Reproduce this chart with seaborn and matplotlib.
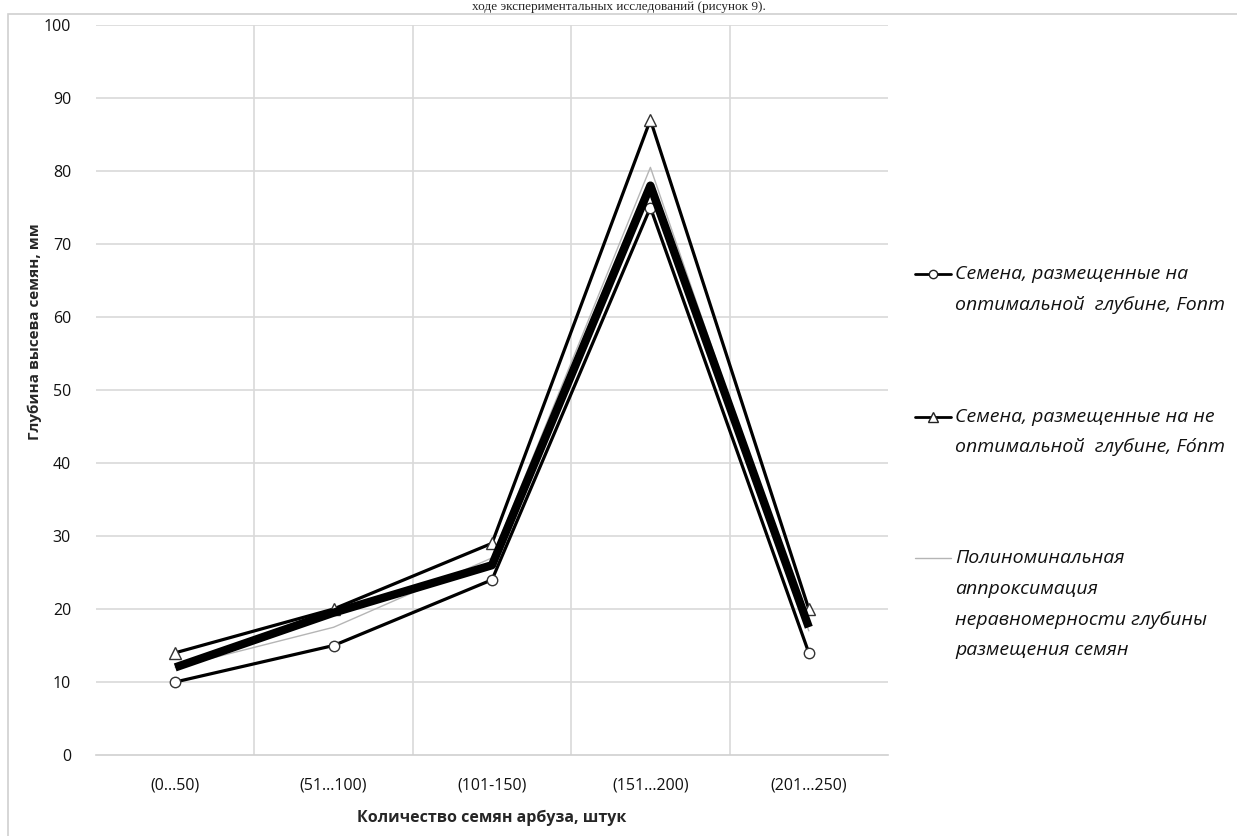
import matplotlib
matplotlib.use("Agg")
import matplotlib.pyplot as plt
import seaborn as sns
import pandas as pd
from matplotlib.lines import Line2D
from matplotlib.patches import Rectangle

categories = ["(0...50)", "(51...100)", "(101-150)", "(151...200)", "(201...250)"]
opt_values = [10, 15, 24, 75, 14]
nonopt_values = [14, 20, 29, 87, 20]
avg_values = [12, 19.5, 26, 78, 17.5]
poly_values = [12, 17.5, 27, 80.5, 17]

label_opt = ["Семена, размещенные на", "оптимальной  глубине, Fопт"]
label_nonopt = ["Семена, размещенные на не", "оптимальной  глубине, Fо́пт"]
label_poly = ["Полиноминальная", "аппроксимация", "неравномерности глубины", "размещения семян"]

sns.set_theme(style="white")
plt.rcParams['font.family'] = ['Open Sans', 'DejaVu Sans']

W, H = 1237, 836
x = list(range(len(categories)))
df = pd.DataFrame({"x": x, "opt": opt_values, "nonopt": nonopt_values,
                   "avg": avg_values, "poly": poly_values})

fig = plt.figure(figsize=(W / 100, H / 100), dpi=100)
ax = fig.add_axes([96 / W, 1 - 755 / H, (888 - 96) / W, (755 - 25) / H])


def fx(px):
    return px / W


def fy(py):
    return 1 - py / H


# outer chart border
fig.patches.append(Rectangle((fx(8), -0.01), 1.2, fy(14) + 0.01, transform=fig.transFigure,
                             fill=False, edgecolor="#d0d0d0", linewidth=1.2))

sns.lineplot(data=df, x="x", y="poly", ax=ax, color="#b5b5b5", linewidth=1.0, zorder=2)
sns.lineplot(data=df, x="x", y="opt", ax=ax, color="black", linewidth=2.3, marker="o",
             markersize=7.5, markerfacecolor="white", markeredgecolor="#333333",
             markeredgewidth=1.0, zorder=3)
sns.lineplot(data=df, x="x", y="nonopt", ax=ax, color="black", linewidth=2.3, marker="^",
             markersize=8.5, markerfacecolor="white", markeredgecolor="#333333",
             markeredgewidth=1.0, zorder=3)
sns.lineplot(data=df, x="x", y="avg", ax=ax, color="black", linewidth=6.0, zorder=4,
             solid_joinstyle="round", solid_capstyle="butt")

ax.set_xlim(-0.5, 4.5)
ax.set_ylim(0, 100)
ax.set_yticks(range(0, 101, 10))
ax.set_xticks(x)
ax.set_xticklabels(categories)
ax.grid(False)
for yv in range(10, 101, 10):
    ax.axhline(yv, color="#d9d9d9", linewidth=1.2, zorder=0)
for xv in [0.5, 1.5, 2.5, 3.5]:
    ax.axvline(xv, color="#d9d9d9", linewidth=1.2, zorder=0)
for s in ["top", "right", "left"]:
    ax.spines[s].set_visible(False)
ax.spines["bottom"].set_color("#d0d0d0")
ax.spines["bottom"].set_linewidth(1.2)
ax.tick_params(axis="both", length=0, labelsize=11.5, colors="#111111")
ax.tick_params(axis="x", pad=16)
ax.tick_params(axis="y", pad=18)
ax.set_xlabel("Количество семян арбуза, штук", fontsize=11.5, fontweight="bold")
ax.xaxis.set_label_coords(0.5, -(818 - 755) / 730)
ax.xaxis.label.set_va("center")
ax.set_ylabel("Глубина высева семян, мм", fontsize=11, fontweight="bold")
ax.yaxis.set_label_coords((35 - 96) / 792, (755 - 332) / 730)
ax.yaxis.label.set_va("center")

# legend (entries placed on the right like the original)
entries = [
    (dict(marker="o", markersize=6), "black", label_opt, [274, 305]),
    (dict(marker="^", markersize=7), "black", label_nonopt, [417, 447]),
    (dict(), "#b5b5b5", label_poly, [558, 589, 620, 650]),
]
for mk, col, lines, ys in entries:
    lw = 2.0 if col == "black" else 1.0
    fig.add_artist(Line2D([fx(915), fx(951)], [fy(ys[0]), fy(ys[0])], color=col,
                          linewidth=lw, transform=fig.transFigure))
    if mk:
        fig.add_artist(Line2D([fx(933)], [fy(ys[0])], linestyle="none", color=col,
                              markerfacecolor="white", markeredgecolor="#222222",
                              markeredgewidth=1.0, transform=fig.transFigure, **mk))
    for line, yy in zip(lines, ys):
        fig.text(fx(955), fy(yy), line, ha="left", va="center", fontsize=14,
                 style="italic", color="#111111")

fig.text(0.5, fy(1), "ходе экспериментальных исследований (рисунок 9).",
         ha="center", va="top", fontsize=9.5, family="Liberation Serif")

fig.savefig("out.png", dpi=100)
